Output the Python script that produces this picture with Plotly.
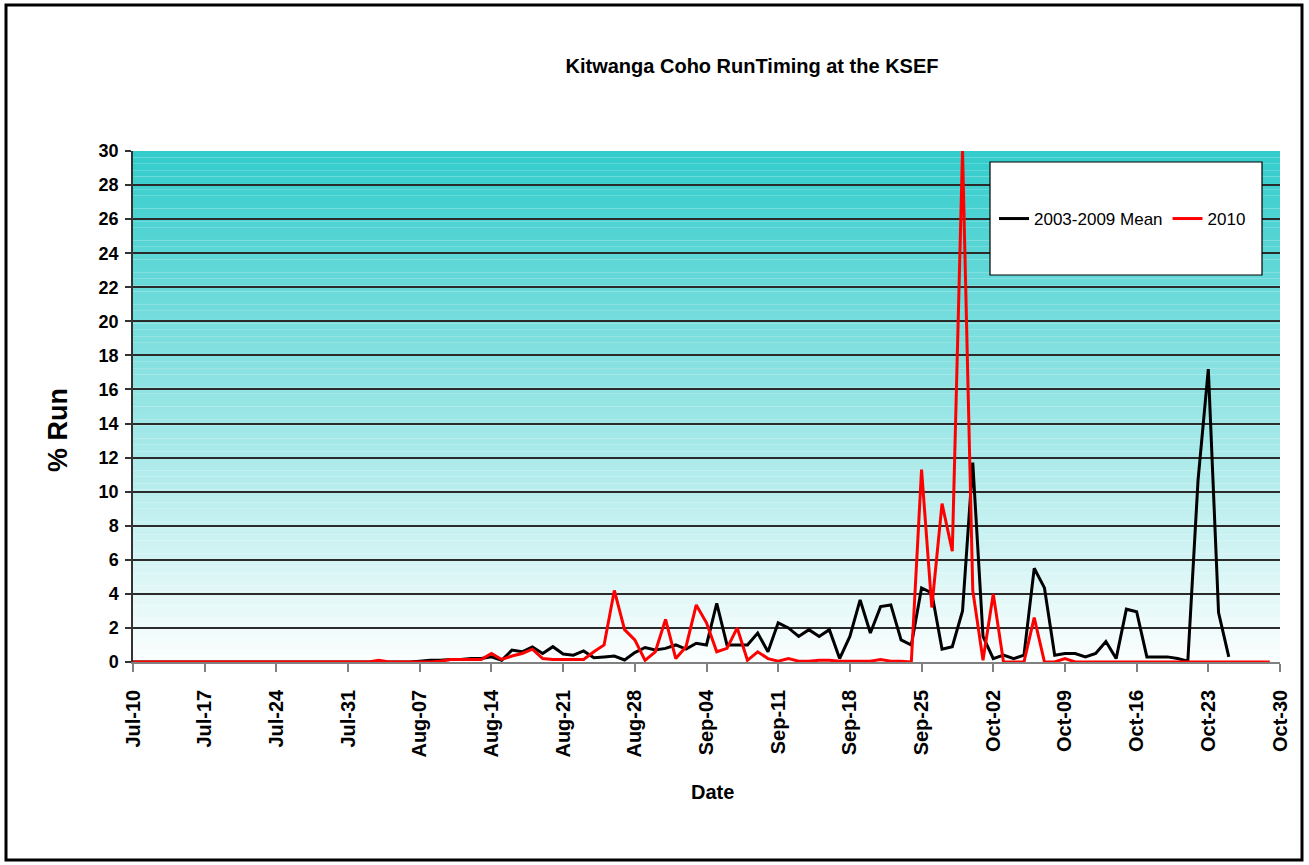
import plotly.graph_objects as go
import pandas as pd

# ---------------- data (daily % of run, starting Jul-10) ----------------
start_date = "2010-07-10"

mean_2003_2009 = (
    [0.0] * 28 +
    [0.05, 0.1, 0.1, 0.15, 0.15, 0.2, 0.2, 0.3, 0.1, 0.7,
     0.6, 0.88, 0.5, 0.9, 0.47, 0.4, 0.65, 0.25, 0.3, 0.35,
     0.12, 0.55, 0.85, 0.7, 0.8, 1.0, 0.76, 1.1, 1.0, 3.45,
     1.0, 1.0, 1.0, 1.7, 0.6, 2.3, 2.0, 1.5, 1.9, 1.5,
     1.9, 0.2, 1.5, 3.65, 1.7, 3.25, 3.35, 1.3, 1.0, 4.35,
     4.05, 0.75, 0.9, 3.0, 11.7, 1.5, 0.2, 0.4, 0.2, 0.4,
     5.5, 4.35, 0.4, 0.5, 0.5, 0.3, 0.5, 1.2, 0.2, 3.1,
     2.95, 0.3, 0.3, 0.3, 0.2, 0.05, 10.7, 17.2, 2.9, 0.3]
)

run_2010 = (
    [0.0] * 24 +
    [0.1, 0.0, 0.0, 0.0, 0.0, 0.0, 0.05, 0.15, 0.15, 0.15,
     0.15, 0.5, 0.15, 0.35, 0.5, 0.75, 0.2, 0.15, 0.15, 0.15,
     0.15, 0.6, 1.0, 4.2, 1.9, 1.3, 0.1, 0.6, 2.5, 0.2,
     0.9, 3.35, 2.3, 0.6, 0.8, 2.0, 0.1, 0.6, 0.2, 0.05,
     0.2, 0.05, 0.05, 0.1, 0.1, 0.05, 0.05, 0.05, 0.05, 0.15,
     0.05, 0.05, 0.0, 11.3, 3.2, 9.3, 6.5, 30.0, 4.2, 0.1,
     4.0, 0.0, 0.0, 0.0, 2.6, 0.0, 0.0, 0.2] +
    [0.0] * 20
)

series_names = ["2003-2009 Mean", "2010"]
title_text = "Kitwanga Coho RunTiming at the KSEF"
x_title = "Date"
y_title = "% Run"

dates_mean = pd.date_range(start_date, periods=len(mean_2003_2009), freq="D")
dates_2010 = pd.date_range(start_date, periods=len(run_2010), freq="D")

# ---------------- layout geometry (pixels) ----------------
W, H = 1309, 865
L, R, T, B = 133, 1280, 151, 662
pw, ph = R - L, B - T


def px_x(px):
    return (px - L) / pw


def px_y(py):
    return (B - py) / ph


FONT = "Liberation Sans, Arial, sans-serif"

fig = go.Figure()
fig.add_trace(go.Scatter(x=dates_mean, y=mean_2003_2009, mode="lines",
                         name=series_names[0],
                         line=dict(color="#000000", width=3)))
fig.add_trace(go.Scatter(x=dates_2010, y=run_2010, mode="lines",
                         name=series_names[1],
                         line=dict(color="#FF0000", width=3)))

shapes = []
# vertical gradient background (teal top -> white bottom)
n = 80
top = (51, 204, 204)
bot = (252, 254, 254)
for i in range(n):
    t = (i + 0.5) / n
    c = tuple(round(bot[k] + (top[k] - bot[k]) * t) for k in range(3))
    shapes.append(dict(type="rect", xref="paper", yref="paper",
                       x0=0, x1=1, y0=i / n, y1=(i + 1) / n,
                       fillcolor="rgb(%d,%d,%d)" % c, line=dict(width=0),
                       layer="below"))
# legend box
shapes.append(dict(type="rect", xref="paper", yref="paper",
                   x0=px_x(990), x1=px_x(1262), y0=px_y(275), y1=px_y(162),
                   fillcolor="white", line=dict(color="black", width=1.2),
                   layer="above"))
# outer chart border
shapes.append(dict(type="rect", xref="paper", yref="paper",
                   x0=px_x(6), x1=px_x(1302), y0=px_y(860), y1=px_y(5),
                   fillcolor="rgba(0,0,0,0)", line=dict(color="black", width=3),
                   layer="above"))

annotations = [
    dict(text=x_title, xref="paper", yref="paper", x=px_x(712), y=px_y(792),
         xanchor="center", yanchor="middle", showarrow=False,
         font=dict(family=FONT, size=20, color="black", weight="bold")),
    dict(text=y_title, xref="paper", yref="paper", x=px_x(58), y=px_y(430),
         xanchor="center", yanchor="middle", showarrow=False, textangle=-90,
         font=dict(family=FONT, size=27, color="black", weight="bold")),
]

fig.update_layout(
    width=W, height=H,
    margin=dict(l=L, r=W - R, t=T, b=H - B, pad=0),
    paper_bgcolor="white",
    plot_bgcolor="rgba(0,0,0,0)",
    title=dict(text=title_text, x=px_x(752), xref="paper", xanchor="center",
               y=1 - 66 / H, yref="container", yanchor="middle",
               font=dict(family=FONT, size=20, color="black", weight="bold")),
    shapes=shapes,
    annotations=annotations,
    showlegend=True,
    legend=dict(orientation="h", x=px_x(994), y=px_y(219),
                xanchor="left", yanchor="middle",
                bgcolor="rgba(0,0,0,0)", borderwidth=0,
                font=dict(family=FONT, size=17, color="black"),
                itemwidth=30),
    xaxis=dict(type="date", range=["2010-07-10", "2010-10-30"],
               tick0="2010-07-10", dtick=7 * 24 * 3600 * 1000,
               tickformat="%b-%d", tickangle=-90,
               ticks="outside", ticklen=8, tickcolor="#808080", tickwidth=1.5,
               ticklabelstandoff=10,
               showline=True, linecolor="#808080", linewidth=1.5,
               showgrid=False, zeroline=False,
               tickfont=dict(family=FONT, size=20, color="black", weight="bold")),
    yaxis=dict(range=[0, 30], dtick=2, tick0=0,
               ticks="outside", ticklen=6, tickcolor="#333333", tickwidth=1.5,
               ticklabelstandoff=3,
               showline=True, linecolor="#333333", linewidth=1.5,
               showgrid=True, gridcolor="#2b2b2b", gridwidth=1.5,
               zeroline=False,
               tickfont=dict(family=FONT, size=18, color="black", weight="bold")),
)

fig.write_html("out.html", post_script="document.body.style.margin='0';",
               config={"displayModeBar": False})
